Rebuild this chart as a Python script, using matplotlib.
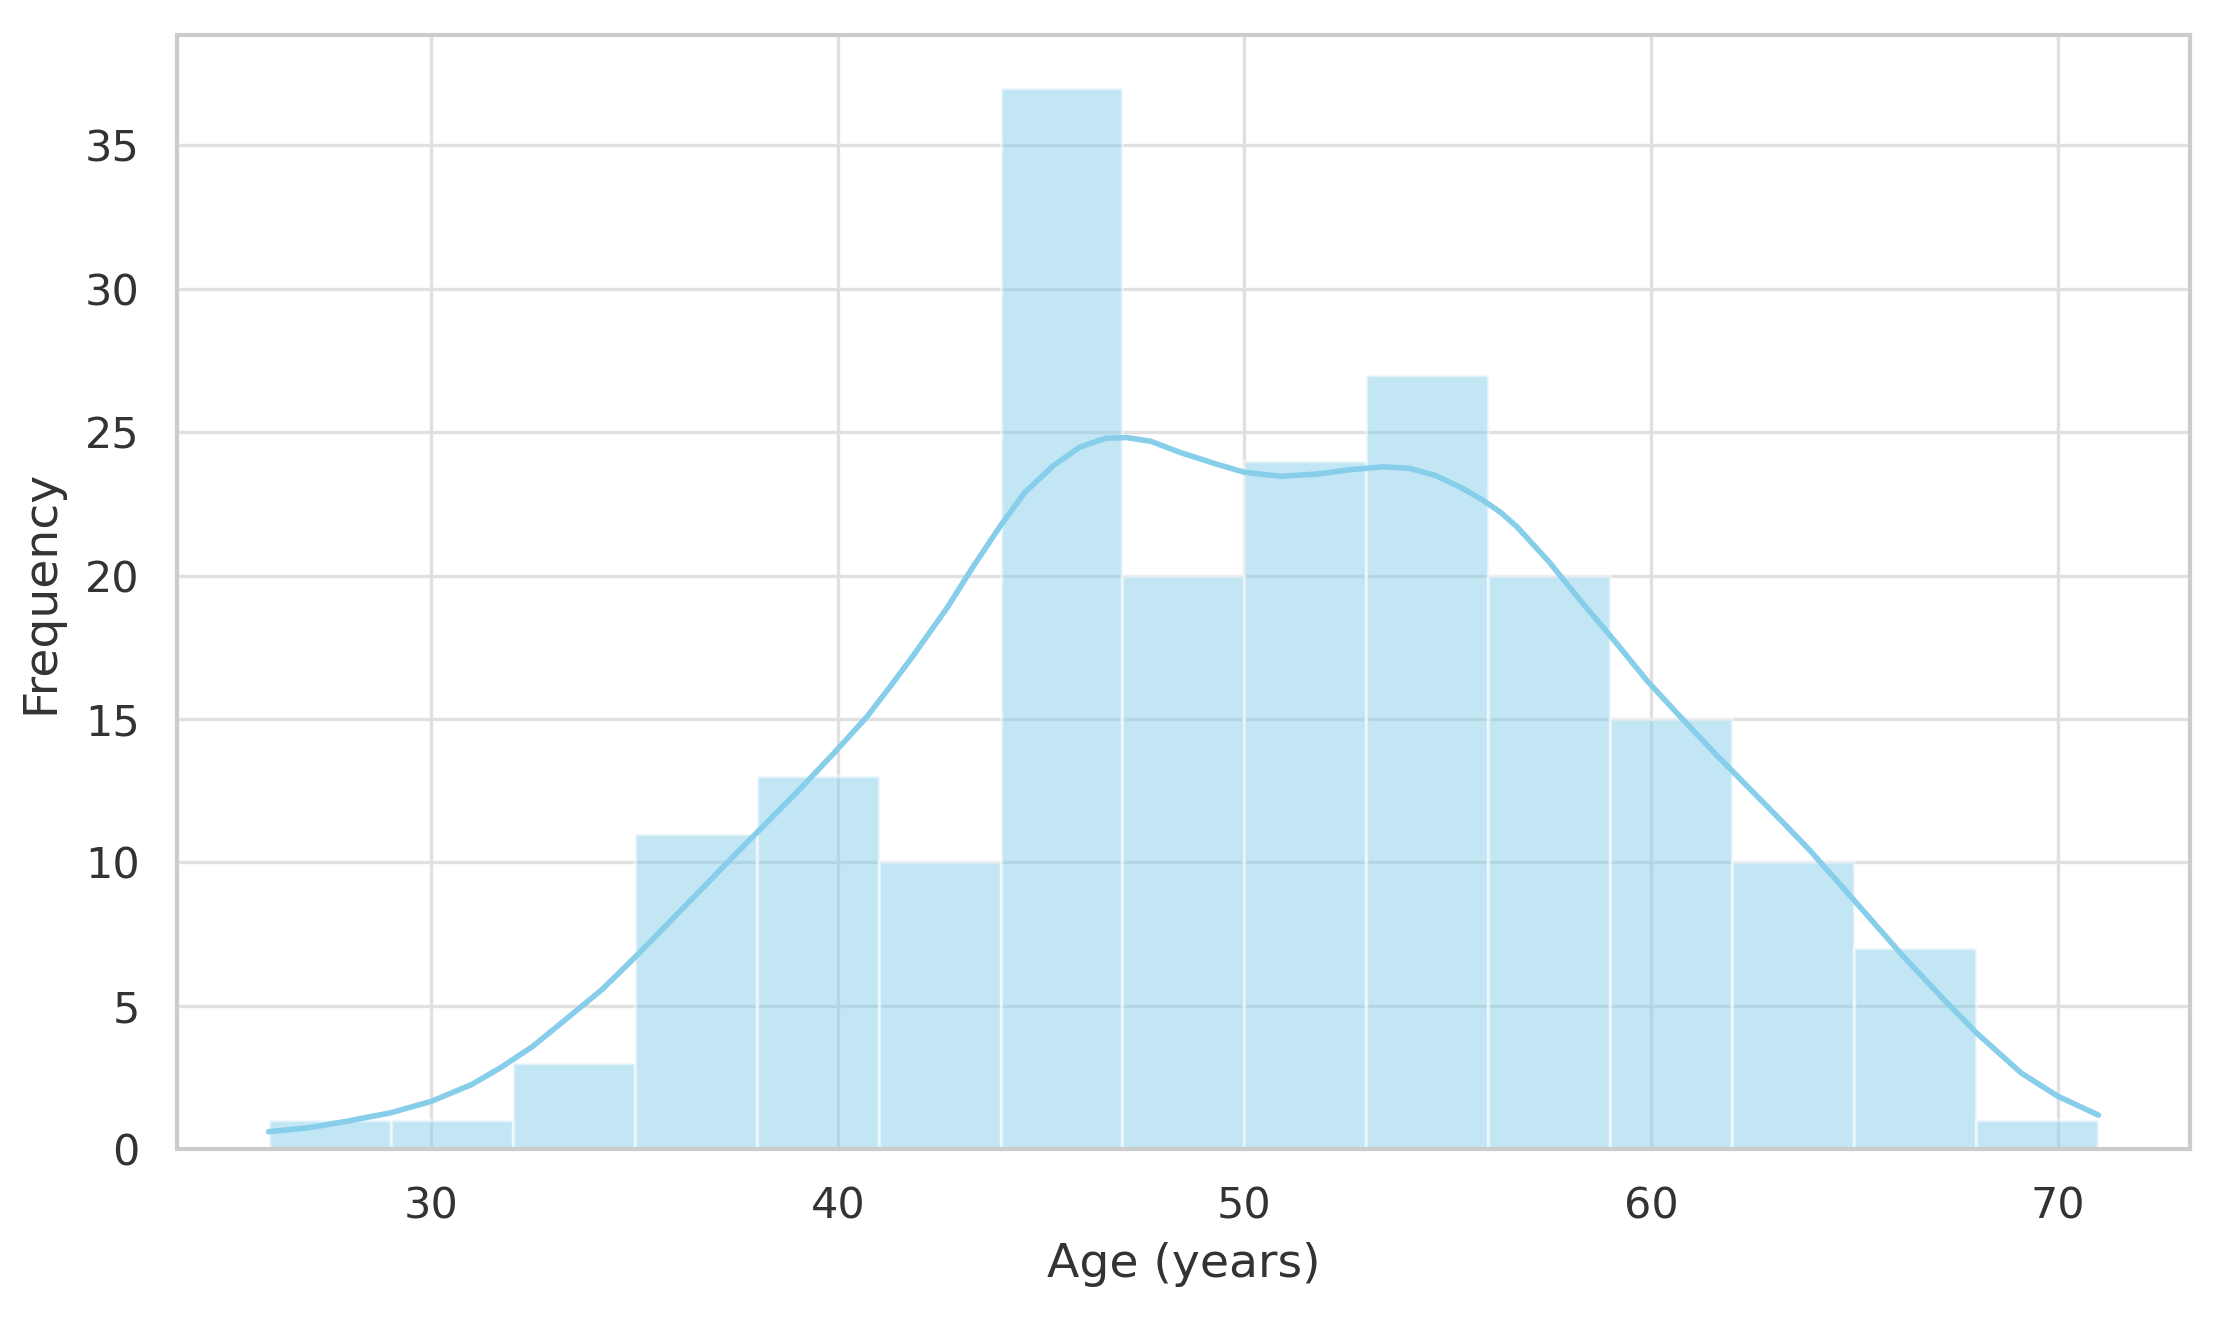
import numpy as np
import matplotlib
matplotlib.use('Agg')
import matplotlib.pyplot as plt
import seaborn as sns

# histogram bins (width 3, from 26 to 71) and counts
bin_edges = [26, 29, 32, 35, 38, 41, 44, 47, 50, 53, 56, 59, 62, 65, 68, 71]
counts = [1, 1, 3, 11, 13, 10, 37, 20, 24, 27, 20, 15, 10, 7, 1]

# kde curve (scaled to counts)
kde_x = [26.0, 27.0, 27.9, 29.0, 30.0, 31.0, 31.7, 32.5, 33.3, 34.2, 35.0, 35.8,
         36.6, 37.4, 38.3, 39.1, 39.9, 40.7, 41.3, 41.85, 42.7, 43.3, 44.0, 44.6,
         45.3, 45.95, 46.6, 47.1, 47.7, 48.4, 49.3, 50.0, 50.9, 51.8, 52.6, 53.4,
         54.05, 54.7, 55.35, 55.85, 56.3, 56.7, 57.5, 58.3, 59.1, 59.9, 60.8, 61.6,
         62.4, 63.2, 63.9, 64.9, 66.2, 67.2, 68.0, 69.1, 70.0, 71.0]
kde_y = [0.60, 0.74, 0.96, 1.26, 1.66, 2.25, 2.83, 3.58, 4.51, 5.56, 6.67, 7.83,
         8.99, 10.16, 11.45, 12.6, 13.8, 15.05, 16.15, 17.2, 18.9, 20.25, 21.74, 22.90,
         23.83, 24.48, 24.79, 24.81, 24.68, 24.30, 23.89, 23.60, 23.46, 23.54, 23.69, 23.79,
         23.74, 23.49, 23.05, 22.64, 22.2, 21.7, 20.46, 19.06, 17.72, 16.33, 14.95, 13.75,
         12.6, 11.45, 10.42, 8.82, 6.72, 5.21, 4.05, 2.65, 1.84, 1.18]

sns.set_theme(style='whitegrid')
plt.rcParams['font.family'] = ['DejaVu Sans']

fig = plt.figure(figsize=(11.165, 6.585), dpi=200)
ax = fig.add_axes([0.0793, 0.1276, 0.9014, 0.8458])

widths = np.diff(bin_edges)
ax.bar(bin_edges[:-1], counts, width=widths, align='edge',
       color='skyblue', alpha=0.5, edgecolor='white', linewidth=1.2)
ax.plot(kde_x, kde_y, color='skyblue', linewidth=2.0, solid_joinstyle='round')

ax.set_xlabel('Age (years)', fontsize=17, color='0.2', labelpad=5.5)
ax.set_ylabel('Frequency', fontsize=17, color='0.2', labelpad=7.5)
ax.tick_params(axis='x', labelsize=15.5, colors='0.2', pad=7)
ax.tick_params(axis='y', labelsize=15.5, colors='0.2', pad=7.5)
ax.grid(color='0.88', linewidth=1.2)
for s in ax.spines.values():
    s.set_color('0.8')
    s.set_linewidth(1.5)

plt.savefig('out.png', dpi=200)
